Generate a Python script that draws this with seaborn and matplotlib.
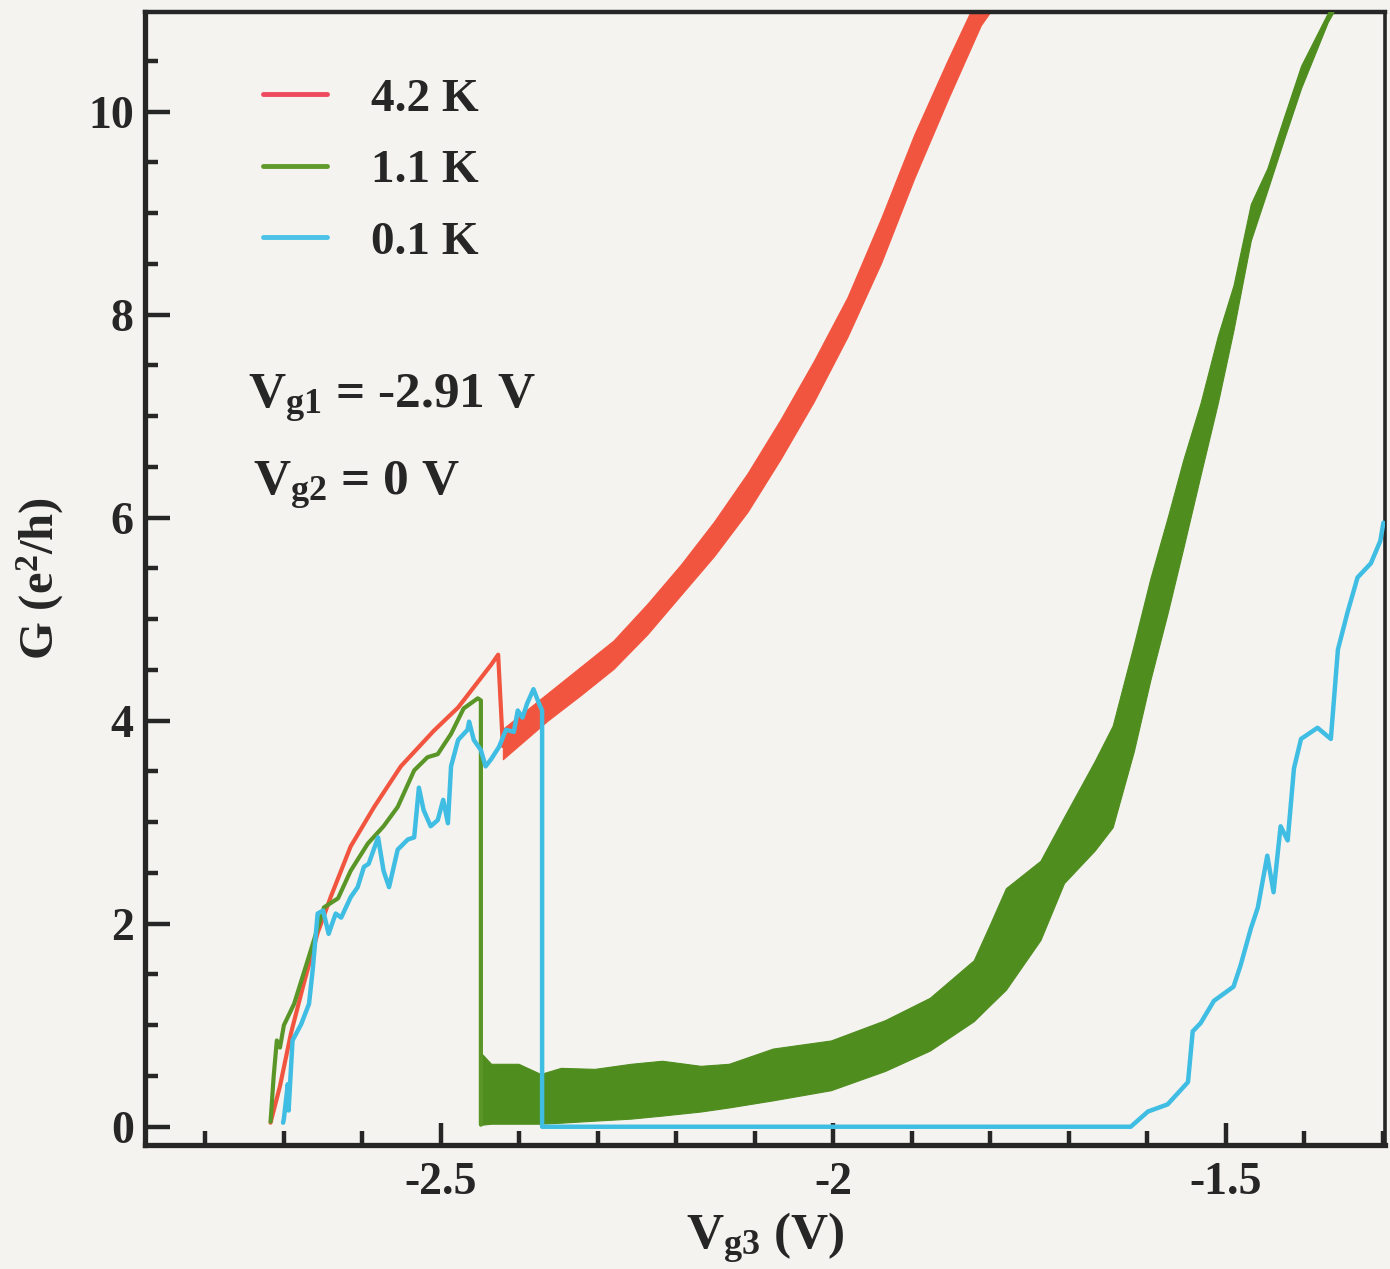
import numpy as np
import pandas as pd
import matplotlib
matplotlib.use("Agg")
import matplotlib.pyplot as plt
from matplotlib.ticker import MultipleLocator, FixedLocator
from matplotlib.lines import Line2D
import seaborn as sns

# ---- 4.2 K trace: single sweep up to the switch, then a noisy band ----
red_thin_x = [-2.717, -2.705, -2.691, -2.675, -2.657, -2.640, -2.615, -2.585,
              -2.551, -2.509, -2.478, -2.453, -2.436, -2.427, -2.421]
red_thin_g = [0.04, 0.40, 0.92, 1.40, 1.91, 2.27, 2.76, 3.15,
              3.55, 3.90, 4.13, 4.38, 4.55, 4.65, 3.75]
red_band_x = [-2.421, -2.364, -2.322, -2.280, -2.237, -2.194, -2.152, -2.109,
              -2.067, -2.025, -1.982, -1.939, -1.897, -1.854, -1.812, -1.780]
red_band_lo = [3.62, 4.00, 4.25, 4.51, 4.85, 5.24, 5.62, 6.06,
               6.58, 7.14, 7.78, 8.51, 9.34, 10.12, 10.85, 11.20]
red_band_hi = [3.92, 4.27, 4.53, 4.79, 5.15, 5.54, 5.96, 6.44,
               6.97, 7.54, 8.17, 8.95, 9.77, 10.51, 11.20, 11.60]

# ---- 1.1 K trace ----
green_thin_x = [-2.717, -2.713, -2.709, -2.705, -2.700, -2.687, -2.666, -2.649,
                -2.631, -2.615, -2.593, -2.573, -2.555, -2.534, -2.517, -2.504,
                -2.487, -2.471, -2.453, -2.449, -2.449]
green_thin_g = [0.05, 0.50, 0.85, 0.78, 1.00, 1.21, 1.73, 2.16,
                2.25, 2.52, 2.79, 2.96, 3.15, 3.51, 3.64, 3.67,
                3.87, 4.12, 4.22, 4.20, 0.02]
green_band_x = [-2.448, -2.436, -2.401, -2.373, -2.347, -2.304, -2.258, -2.218,
                -2.169, -2.133, -2.077, -2.003, -1.934, -1.877, -1.821, -1.800,
                -1.780, -1.736, -1.706, -1.667, -1.644, -1.617, -1.596, -1.574,
                -1.554, -1.532, -1.510, -1.490, -1.468, -1.447, -1.426, -1.404,
                -1.370, -1.354]
green_band_lo = [0.02, 0.03, 0.03, 0.03, 0.04, 0.06, 0.08, 0.11,
                 0.15, 0.19, 0.26, 0.36, 0.55, 0.75, 1.04, 1.20,
                 1.35, 1.84, 2.40, 2.72, 2.95, 3.70, 4.40, 5.06,
                 5.70, 6.42, 7.13, 7.85, 8.73, 9.22, 9.72, 10.23,
                 10.88, 11.10]
green_band_hi = [0.72, 0.62, 0.62, 0.52, 0.58, 0.57, 0.62, 0.65,
                 0.60, 0.62, 0.77, 0.85, 1.05, 1.27, 1.64, 2.00,
                 2.35, 2.62, 3.05, 3.60, 3.95, 4.75, 5.40, 6.00,
                 6.57, 7.13, 7.79, 8.29, 9.09, 9.44, 9.94, 10.45,
                 10.97, 11.20]

# ---- 0.1 K trace ----
blue_x = [-2.701, -2.700, -2.695, -2.694, -2.689, -2.678, -2.668, -2.663,
          -2.657, -2.650, -2.643, -2.634, -2.627, -2.615, -2.606, -2.598,
          -2.592, -2.580, -2.573, -2.566, -2.555, -2.542, -2.534, -2.528,
          -2.522, -2.513, -2.504, -2.497, -2.491, -2.487, -2.478, -2.466,
          -2.464, -2.458, -2.449, -2.443, -2.436, -2.426, -2.417, -2.407,
          -2.402, -2.396, -2.390, -2.382, -2.375, -2.371, -2.371,
          -1.621, -1.599, -1.574, -1.548, -1.542, -1.532, -1.515, -1.490,
          -1.481, -1.468, -1.459, -1.447, -1.439, -1.430, -1.421, -1.413,
          -1.404, -1.383, -1.366, -1.357, -1.345, -1.332, -1.315, -1.303,
          -1.299]
blue_g = [0.04, 0.08, 0.42, 0.16, 0.85, 1.01, 1.21, 1.57,
          2.10, 2.13, 1.90, 2.10, 2.06, 2.26, 2.36, 2.56,
          2.59, 2.85, 2.52, 2.36, 2.73, 2.83, 2.85, 3.34,
          3.12, 2.96, 3.02, 3.22, 2.99, 3.55, 3.81, 3.91,
          3.99, 3.81, 3.71, 3.55, 3.62, 3.74, 3.91, 3.89,
          4.10, 4.03, 4.17, 4.31, 4.17, 4.10, 0.0,
          0.0, 0.15, 0.22, 0.44, 0.94, 1.02, 1.24, 1.38,
          1.59, 1.95, 2.16, 2.67, 2.31, 2.96, 2.82, 3.53,
          3.82, 3.93, 3.82, 4.70, 5.06, 5.41, 5.55, 5.77,
          5.95]

labels = ["4.2 K", "1.1 K", "0.1 K"]
colors = {"4.2 K": "#f2553f", "1.1 K": "#4f8d1f", "0.1 K": "#3fbde3"}
legend_colors = ["#ef4a5e", "#5f9a2c", "#4cc3e6"]

xticks_major = [-2.5, -2.0, -1.5]
xtick_labels = ["-2.5", "-2", "-1.5"]
yticks_major = [0, 2, 4, 6, 8, 10]

sns.set_theme(style="ticks")
bg = "#f4f3ef"
plt.rcParams.update({
    "font.family": ["Liberation Serif", "DejaVu Serif"],
    "font.weight": "bold",
    "mathtext.fontset": "custom",
    "mathtext.rm": "Liberation Serif:bold",
    "mathtext.bf": "Liberation Serif:bold",
    "mathtext.it": "Liberation Serif:bold",
    "axes.edgecolor": "#262626",
    "figure.facecolor": bg,
    "axes.facecolor": bg,
})

fig = plt.figure(figsize=(13.9, 12.69), dpi=100)
ax = fig.add_axes([0.1043, 0.0977, 0.8921, 0.8928])

thin = pd.concat([
    pd.DataFrame({"V": red_thin_x, "G": red_thin_g, "T": "4.2 K"}),
    pd.DataFrame({"V": green_thin_x, "G": green_thin_g, "T": "1.1 K"}),
])

# noisy bands (rapid fluctuations) drawn as envelopes
ax.fill_between(red_band_x, red_band_lo, red_band_hi, color=colors["4.2 K"],
                lw=0.8, edgecolor=colors["4.2 K"], zorder=2)
sns.lineplot(data=thin[thin["T"] == "4.2 K"], x="V", y="G", sort=False,
             estimator=None, color=colors["4.2 K"], lw=3.0, ax=ax, zorder=2,
             legend=False)
ax.fill_between(green_band_x, green_band_lo, green_band_hi,
                color=colors["1.1 K"], lw=0.8, edgecolor=colors["1.1 K"],
                zorder=3)
sns.lineplot(data=thin[thin["T"] == "1.1 K"], x="V", y="G", sort=False,
             estimator=None, color="#5a9627", lw=3.0, ax=ax, zorder=3,
             legend=False)
blue_df = pd.DataFrame({"V": blue_x, "G": blue_g})
sns.lineplot(data=blue_df, x="V", y="G", sort=False, estimator=None,
             color=colors["0.1 K"], lw=3.2, ax=ax, zorder=4, legend=False)

ax.set_xlim(-2.877, -1.297)
ax.set_ylim(-0.18, 10.98)

ax.xaxis.set_major_locator(FixedLocator(xticks_major))
ax.set_xticklabels(xtick_labels)
ax.xaxis.set_minor_locator(MultipleLocator(0.1))
ax.yaxis.set_major_locator(FixedLocator(yticks_major))
ax.yaxis.set_minor_locator(MultipleLocator(0.5))
ax.tick_params(axis="both", which="both", direction="in", color="#262626",
               labelsize=33, width=3.2)
ax.tick_params(axis="y", which="major", length=18, pad=8)
ax.tick_params(axis="y", which="minor", length=9.5)
ax.tick_params(axis="x", which="major", length=16, pad=12)
ax.tick_params(axis="x", which="minor", length=10)
for lab in ax.get_xticklabels() + ax.get_yticklabels():
    lab.set_fontweight("bold")

for side, w in {"left": 3.8, "bottom": 3.8, "top": 3.2, "right": 2.6}.items():
    ax.spines[side].set_linewidth(w)
    ax.spines[side].set_visible(True)

ax.set_xlabel(r"V$_{\mathbf{g3}}$ (V)", fontsize=37, fontweight="bold")
ax.set_ylabel(r"G (e$^{\mathbf{2}}$/h)", fontsize=35, fontweight="bold")
ax.xaxis.set_label_coords(0.5, -0.058)
ax.yaxis.set_label_coords(-0.064, 0.5)

handles = [Line2D([0], [0], color=c, lw=3.5) for c in legend_colors]
leg = ax.legend(handles, labels, loc="upper left", bbox_to_anchor=(0.095, 0.942),
                frameon=False, fontsize=34, handlelength=1.35,
                handletextpad=0.95, labelspacing=0.60, borderaxespad=0,
                borderpad=0)
for t in leg.get_texts():
    t.set_fontweight("bold")

ax.text(0.083, 0.650, r"V$_{\mathbf{g1}}$ = -2.91 V", transform=ax.transAxes,
        fontsize=37, fontweight="bold", va="baseline", ha="left")
ax.text(0.087, 0.574, r"V$_{\mathbf{g2}}$ = 0 V", transform=ax.transAxes,
        fontsize=37, fontweight="bold", va="baseline", ha="left")

fig.savefig("out.png", dpi=100, facecolor=bg)
